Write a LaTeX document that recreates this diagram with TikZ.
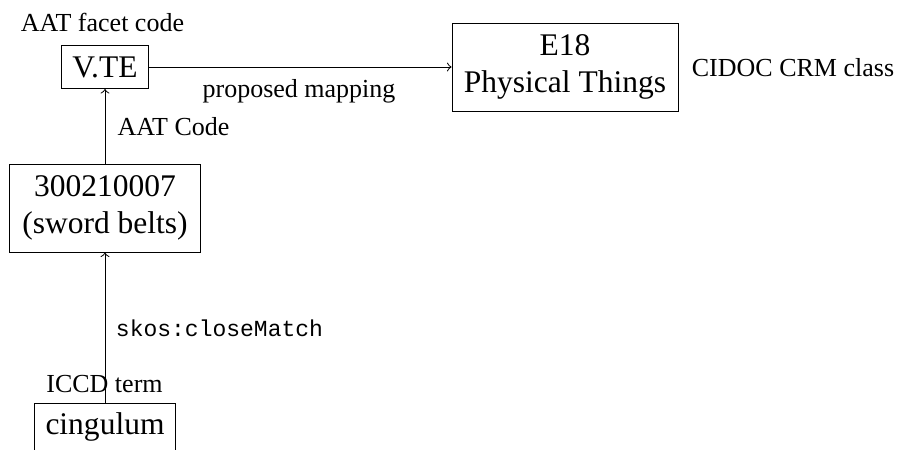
\documentclass[tikz,border=0pt]{standalone}
\usepackage{fontspec}
\setmainfont{Liberation Serif}
\setmonofont{Liberation Mono}
\begin{document}
\begin{tikzpicture}[x=0.4pt,y=-0.4pt,
  box/.style={draw, line width=0.4pt, inner sep=0pt, align=center,
    font=\fontsize{12.6}{14.8}\selectfont},
  lbl/.style={inner sep=0pt, anchor=base, font=\fontsize{10.4}{12.5}\selectfont},
  rel/.style={->, line width=0.4pt}]
\useasboundingbox (0,0) rectangle (898,449);
\clip (0,0) rectangle (898,449);

% concept boxes
\node[box, minimum width=34.8pt, minimum height=17.2pt] (vte) at (105,67) {V.TE};
\node[box, minimum width=90.4pt, minimum height=35.2pt] (e18) at (565,67) {E18\\Physical Things};
\node[box, minimum width=76pt, minimum height=35.2pt] (aat) at (105,208) {300210007\\(sword belts)};
% the lowest box runs past the bottom edge of the page
\node[box, minimum width=56.4pt, minimum height=24pt, text height=8.8pt, text depth=8pt]
  (cing) at (105,433) {cingulum};

% captions
\node[lbl] (lfacet) at (102.5,31) {AAT facet code};
\node[lbl] (lcrm) at (793,76) {CIDOC CRM class};
\node[lbl] (lmap) at (299,97) {proposed mapping};
\node[lbl] (lcode) at (173.5,135) {AAT Code};
\node[lbl, font=\fontsize{9.2}{11}\ttfamily] (lskos) at (219.5,336) {skos:closeMatch};
\node[lbl] (liccd) at (104.5,392) {ICCD term};

% relations
\draw[rel] (vte.east) -- (e18.west);
\draw[rel] (aat.north) -- (vte.south);
\draw[rel] (cing.north) -- (aat.south);
\end{tikzpicture}
\end{document}
